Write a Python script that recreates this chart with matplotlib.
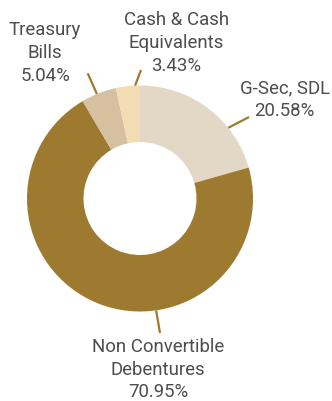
import numpy as np
import matplotlib.pyplot as plt

plt.rcParams['font.family'] = ['Roboto', 'DejaVu Sans']

labels = ['G-Sec, SDL', 'Non Convertible\nDebentures', 'Treasury\nBills', 'Cash & Cash\nEquivalents']
values = [20.58, 70.95, 5.04, 3.43]
colors = ['#e3d8c5', '#9e7a31', '#d5c19f', '#f1dcb3']

# leader line anchor angle on the ring (deg), line end, label centre (data units of radius)
anchor_angle = [38.7, -81.8, 112.4, 92.5]
line_end = [(0.965, 0.721), (0.177, -1.19), (-0.463, 1.108), (0.009, 1.137)]
label_pos = [(1.28, 0.875), (0.16, -1.515), (-0.84, 1.288), (0.32, 1.376)]

fig = plt.figure(figsize=(3.32, 4.01), dpi=100)
ax = fig.add_axes([0, 0, 1, 1])

ax.pie(values, colors=colors, startangle=90, counterclock=False, radius=1,
       wedgeprops=dict(width=0.5, edgecolor='none'))
ax.set_xlim(-140 / 113, 192 / 113)
ax.set_ylim(-202.5 / 113, 198.5 / 113)
ax.axis('off')

for lab, val, ang, end, pos in zip(labels, values, anchor_angle, line_end, label_pos):
    a = np.deg2rad(ang)
    ax.plot([np.cos(a), end[0]], [np.sin(a), end[1]], color='#9e7a31', lw=1.6,
            solid_capstyle='butt')
    ax.text(pos[0], pos[1], f"{lab}\n{val:.2f}%", ha='center', va='center',
            fontsize=13.4, color='#4d4d4d', linespacing=1.33)

fig.savefig('out.png', dpi=100)
